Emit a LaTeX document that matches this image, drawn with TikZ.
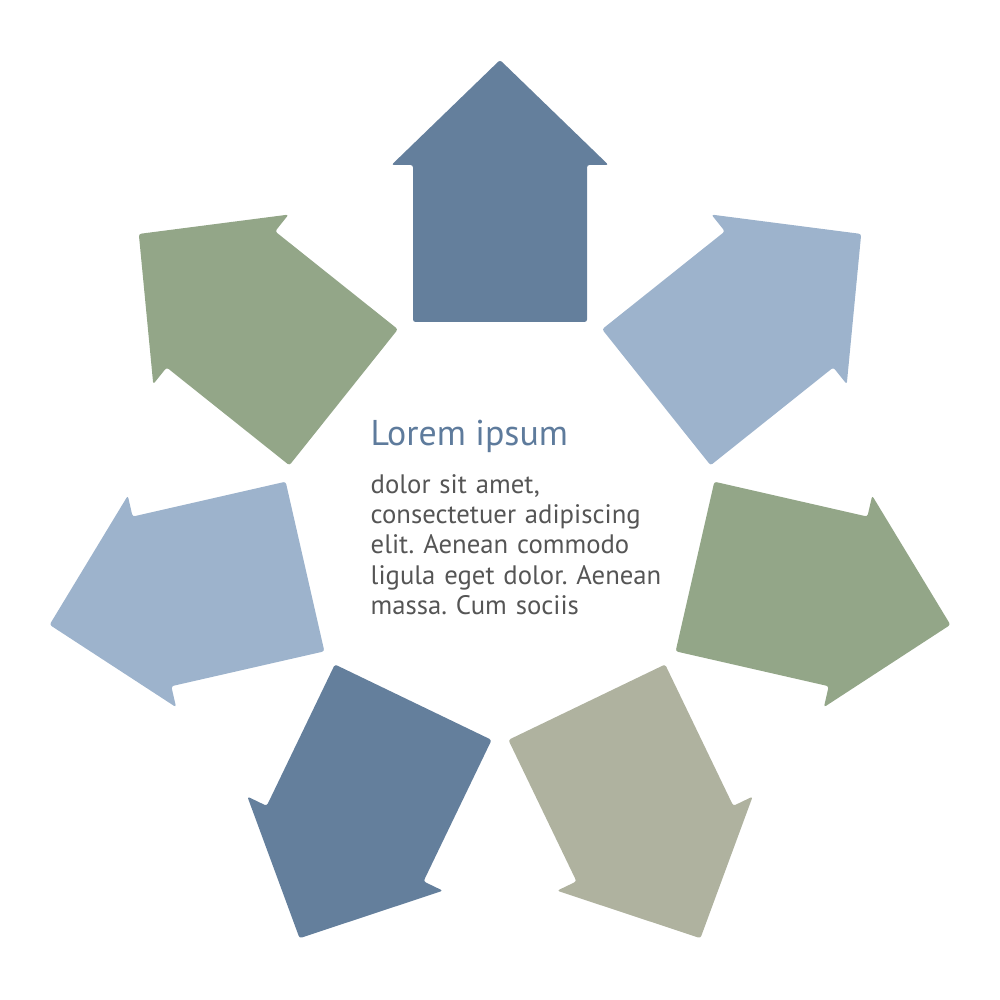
\documentclass[tikz,border=0pt]{standalone}
\usepackage{xcolor}
\usepackage{fontspec}
\setmainfont{PT Sans}
\frenchspacing
\definecolor{arrowdark}{HTML}{647F9C}
\definecolor{arrowlight}{HTML}{9DB3CC}
\definecolor{arrowgreen}{HTML}{93A688}
\definecolor{arrowgray}{HTML}{AFB29F}
\definecolor{titleblue}{HTML}{5E7B9C}
\definecolor{bodygray}{HTML}{555555}

\begin{document}
\begin{tikzpicture}
		\useasboundingbox(-5,-4.78) rectangle (5,5.22);
		\foreach \ang/\col in {90/arrowdark,38.571/arrowlight,-12.857/arrowgreen,-64.286/arrowgray,-115.714/arrowdark,-167.143/arrowlight,141.429/arrowgreen}
			\fill[\col,rotate=\ang,rounded corners=0.7pt](2,-0.87)--(3.57,-0.87)--(3.57,-1.085)--(4.62,0)--(3.57,1.085)--(3.57,0.87)--(2,0.87)--cycle;
		\node(title) at (-1.30,0.763)[anchor=base west,inner sep=0,text=titleblue,font=\fontsize{10.2}{12}\selectfont]{Lorem ipsum};
		\node(body) at (-1.30,0.285)[anchor=base west,inner sep=0,text width=3.6cm,align=left,text=bodygray,font=\fontsize{7.6}{8.6}\selectfont]{dolor sit amet,\\consectetuer adipiscing\\elit. Aenean commodo\\ligula eget dolor. Aenean\\massa. Cum sociis};
		\end{tikzpicture}
\end{document}
